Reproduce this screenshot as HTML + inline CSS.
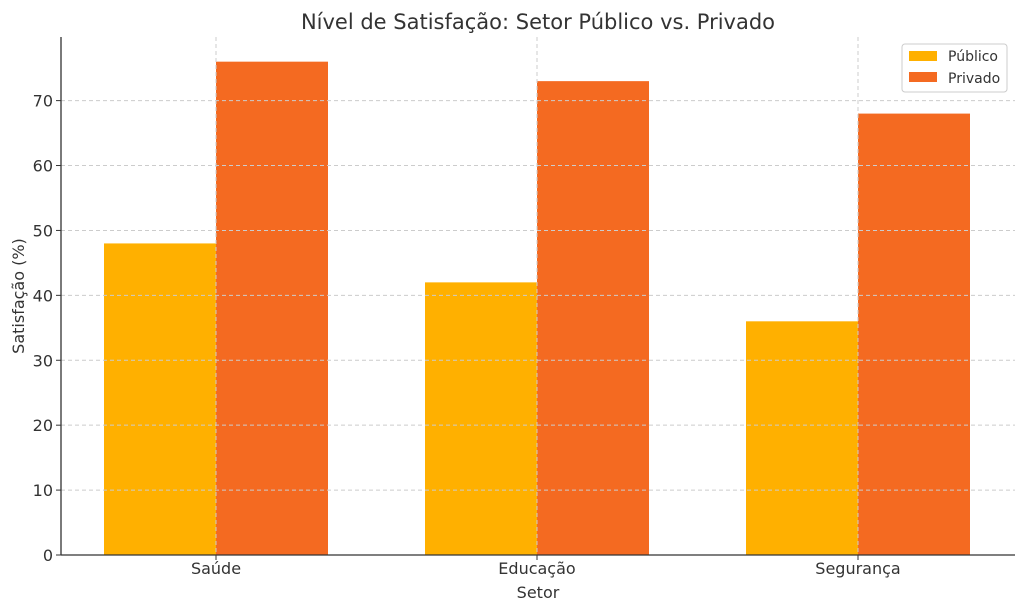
<!DOCTYPE html>
<html><head><meta charset="utf-8"><style>
body{margin:0;background:#fff;}
svg text{font-family:"DejaVu Sans","Liberation Sans",sans-serif;fill:#333;}
</style></head><body>
<svg id="chart" width="1024" height="611" xmlns="http://www.w3.org/2000/svg">
<text x="538" y="29" font-size="21" text-anchor="middle">Nível de Satisfação: Setor Público vs. Privado</text>
<g id="bars"></g>
<g id="grid"></g>
<g id="axes"></g>
<text x="538" y="598" font-size="16" text-anchor="middle">Setor</text>
<text transform="translate(24,296) rotate(-90)" font-size="16" text-anchor="middle">Satisfação (%)</text>
<g>
<rect x="902" y="44" width="105" height="48" rx="3" fill="#fff" fill-opacity="0.8" stroke="#ccc"/>
<rect x="909" y="51" width="28" height="10" fill="#FFB000"/>
<text x="948" y="61" font-size="14">Público</text>
<rect x="909" y="72" width="28" height="10" fill="#F46A21"/>
<text x="948" y="83" font-size="14">Privado</text>
</g>
</svg>
<script>
const categories=["Saúde","Educação","Segurança"];
const publico=[48,42,36];
const privado=[76,73,68];
const yTicks=[0,10,20,30,40,50,60,70];
const NS="http://www.w3.org/2000/svg";
const L=61,R=1015,T=37,B=555,ymax=79.8;
const xScale=i=>216+i*321;
const yScale=v=>B-(v/ymax)*(B-T);
const bw=112;
function mk(tag,attrs,parent){const e=document.createElementNS(NS,tag);for(const k in attrs)e.setAttribute(k,attrs[k]);parent.appendChild(e);return e;}
const bars=document.getElementById('bars'),grid=document.getElementById('grid'),axes=document.getElementById('axes');
categories.forEach((c,i)=>{
 const cx=xScale(i);
 const b1=mk('rect',{x:cx-bw,y:yScale(publico[i]),width:bw,height:B-yScale(publico[i]),fill:'#FFB000'},bars);
 
 
 const b2=mk('rect',{x:cx,y:yScale(privado[i]),width:bw,height:B-yScale(privado[i]),fill:'#F46A21'},bars);
 
 
 const g=mk('line',{x1:cx,x2:cx,y1:T,y2:B,stroke:'#ccc','stroke-dasharray':'4,3','stroke-width':1},grid);
 
 
 mk('line',{x1:cx,x2:cx,y1:B,y2:B+5,stroke:'#333'},axes);
 const t=mk('text',{x:cx,y:B+19,'font-size':16,'text-anchor':'middle'},axes);
 t.textContent=c;
 
 
});
yTicks.forEach(v=>{
 const y=yScale(v);
 if(v>0){const g=mk('line',{x1:L,x2:R,y1:y,y2:y,stroke:'#ccc','stroke-dasharray':'4,3','stroke-width':1},grid);
 
 }
 mk('line',{x1:L-5,x2:L,y1:y,y2:y,stroke:'#333'},axes);
 const t=mk('text',{x:L-8,y:y+6,'font-size':16,'text-anchor':'end'},axes);
 t.textContent=v;
 
 
});
const ya=mk('line',{x1:L,x2:L,y1:T,y2:B,stroke:'#333','stroke-width':1.3},axes);


const xa=mk('line',{x1:L,x2:R,y1:B,y2:B,stroke:'#333','stroke-width':1.3},axes);


</script>
</body></html>
